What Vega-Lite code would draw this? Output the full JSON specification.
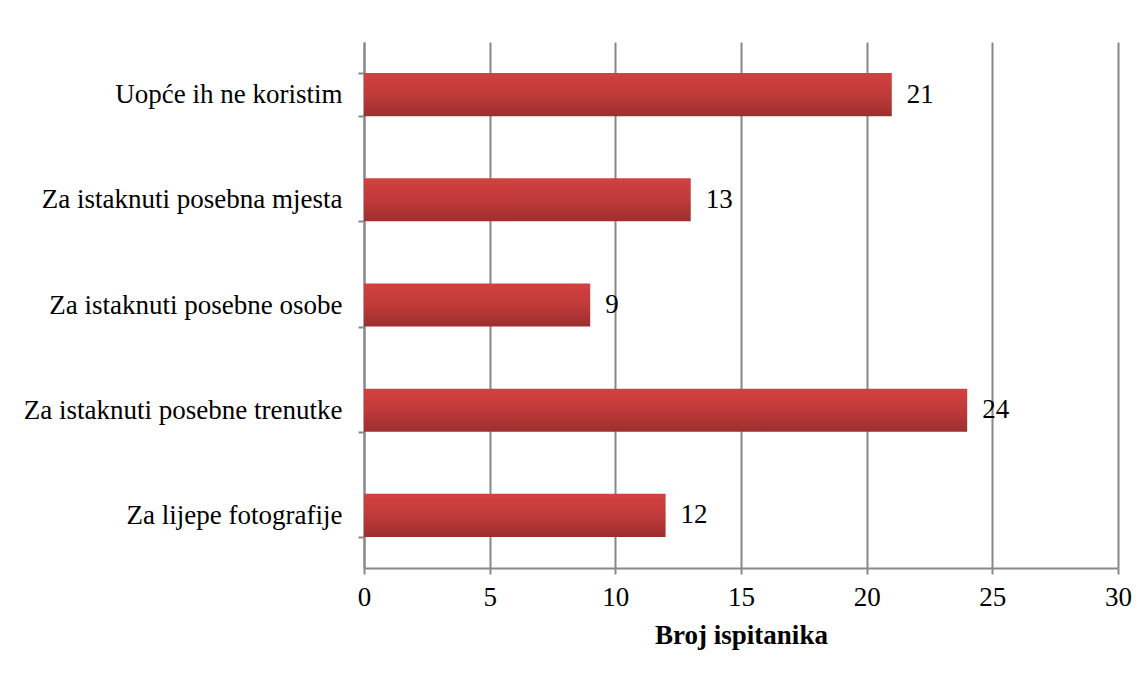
{
  "$schema": "https://vega.github.io/schema/vega-lite/v6.json",
  "autosize": "none",
  "width": 754,
  "height": 526,
  "padding": {"left": 364, "top": 42, "right": 30, "bottom": 109},
  "background": "white",
  "config": {
    "view": {"stroke": null},
    "font": "Liberation Serif, Times New Roman, serif",
    "axis": {"domainColor": "#888888", "tickColor": "#888888", "gridColor": "#888888", "domainWidth": 2, "tickWidth": 2, "gridWidth": 2}
  },
  "data": {
    "values": [
      {"kategorija": "Uopće ih ne koristim", "broj": 21},
      {"kategorija": "Za istaknuti posebna mjesta", "broj": 13},
      {"kategorija": "Za istaknuti posebne osobe", "broj": 9},
      {"kategorija": "Za istaknuti posebne trenutke", "broj": 24},
      {"kategorija": "Za lijepe fotografije", "broj": 12}
    ]
  },
  "encoding": {
    "y": {
      "field": "kategorija", "type": "nominal", "sort": null,
      "scale": {"paddingInner": 0.59, "paddingOuter": 0.295},
      "axis": {"title": null, "labelFontSize": 27, "labelLimit": 0, "labelColor": "black", "labelPadding": 16, "tickSize": 6, "tickBand": "extent", "grid": false}
    },
    "x": {
      "field": "broj", "type": "quantitative",
      "scale": {"domain": [0, 30]},
      "axis": {"title": "Broj ispitanika", "titleFontSize": 27, "titleFontWeight": "bold", "titleColor": "black", "titlePadding": 12, "labelFontSize": 27, "labelColor": "black", "labelPadding": 10, "labelFlush": false, "values": [0, 5, 10, 15, 20, 25, 30], "tickSize": 6, "grid": true}
    }
  },
  "layer": [
    {
      "mark": {"type": "bar", "color": {"gradient": "linear", "x1": 0, "y1": 0, "x2": 0, "y2": 1, "stops": [{"offset": 0, "color": "#d24140"}, {"offset": 0.5, "color": "#c03a39"}, {"offset": 1, "color": "#9c2f2e"}]}}
    },
    {
      "mark": {"type": "text", "align": "left", "dx": 15, "fontSize": 27, "color": "black"},
      "encoding": {"text": {"field": "broj", "type": "quantitative"}}
    }
  ]
}
